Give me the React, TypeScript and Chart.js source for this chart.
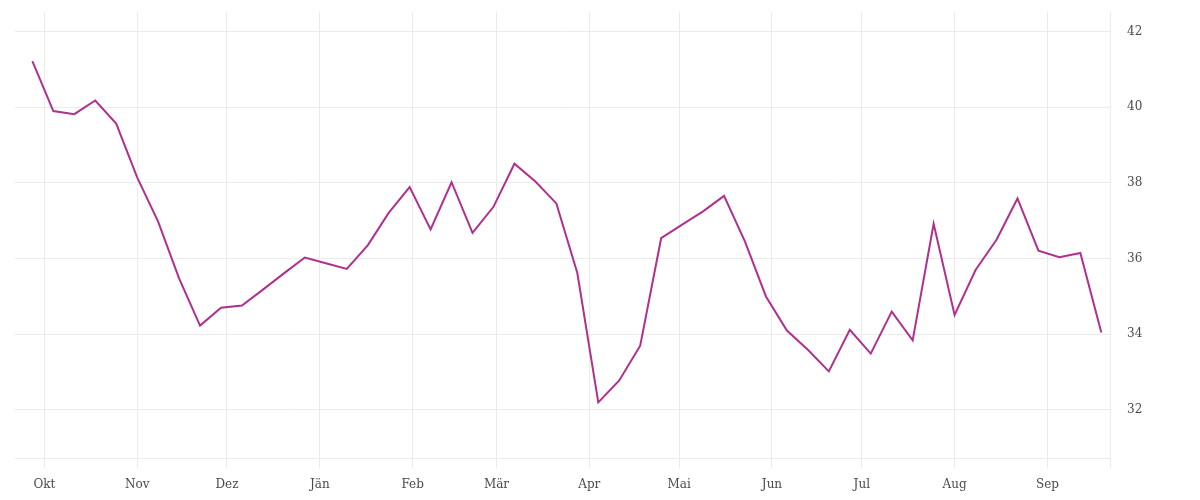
import { useEffect, useRef } from 'react';
import { Chart, registerables } from 'chart.js';

Chart.register(...registerables);

const weekDates = [
   '2018-09-27', '2018-10-04', '2018-10-11', '2018-10-18', '2018-10-25',
   '2018-11-01', '2018-11-08', '2018-11-15', '2018-11-22', '2018-11-29',
   '2018-12-06', '2018-12-13', '2018-12-20', '2018-12-27',
   '2019-01-03', '2019-01-10', '2019-01-17', '2019-01-24', '2019-01-31',
   '2019-02-07', '2019-02-14', '2019-02-21', '2019-02-28',
   '2019-03-07', '2019-03-14', '2019-03-21', '2019-03-28',
   '2019-04-04', '2019-04-11', '2019-04-18', '2019-04-25',
   '2019-05-02', '2019-05-09', '2019-05-16', '2019-05-23', '2019-05-30',
   '2019-06-06', '2019-06-13', '2019-06-20', '2019-06-27',
   '2019-07-04', '2019-07-11', '2019-07-18', '2019-07-25',
   '2019-08-01', '2019-08-08', '2019-08-15', '2019-08-22', '2019-08-29',
   '2019-09-05', '2019-09-12', '2019-09-19',
];

const weeklyValues = [
   41.22, 39.9, 39.82, 40.18, 39.57, 38.15, 36.98, 35.48, 34.23, 34.7,
   34.76, 35.18, 35.61, 36.03, 35.88, 35.73, 36.35, 37.21, 37.89, 36.77,
   38.02, 36.68, 37.37, 38.51, 38.04, 37.46, 35.62, 32.2, 32.78, 33.7,
   36.54, 36.9, 37.25, 37.66, 36.45, 35.0, 34.1, 33.59, 33.02, 34.12,
   33.49, 34.6, 33.84, 36.92, 34.51, 35.7, 36.5, 37.59, 36.21, 36.04,
   36.15, 34.05,
];

const monthStarts = [
   '2018-10-01', '2018-11-01', '2018-12-01', '2019-01-01', '2019-02-01', '2019-03-01',
   '2019-04-01', '2019-05-01', '2019-06-01', '2019-07-01', '2019-08-01', '2019-09-01',
];
const monthLabels = ['Okt', 'Nov', 'Dez', 'Jän', 'Feb', 'Mär', 'Apr', 'Mai', 'Jun', 'Jul', 'Aug', 'Sep'];

const yTicks = [32, 34, 36, 38, 40, 42];

const DAY = 86400000;
const origin = Date.parse('2018-10-01');
const toDay = (d: string) => (Date.parse(d) - origin) / DAY;

const xMin = -9.8;
const xMax = 355.9;

const gridColor = '#ebebeb';
const textColor = '#4a4a4a';
const font = { family: '"DejaVu Serif", serif', size: 12 };

export default function App() {
   const canvasRef = useRef<HTMLCanvasElement>(null);

   useEffect(() => {
      const canvas = canvasRef.current;
      if (!canvas) return;

      const monthDays = monthStarts.map(toDay);

      const chart = new Chart(canvas, {
         type: 'line',
         data: {
            datasets: [
               {
                  data: weekDates.map((d, i) => ({ x: toDay(d), y: weeklyValues[i] })),
                  borderColor: '#b0308c',
                  borderWidth: 2,
                  pointRadius: 0,
                  tension: 0,
                  fill: false,
               },
            ],
         },
         options: {
            animation: false,
            responsive: true,
            maintainAspectRatio: false,
            layout: { padding: { left: 15, top: 12, right: 0, bottom: 0 } },
            plugins: { legend: { display: false }, tooltip: { enabled: false } },
            scales: {
               x: {
                  type: 'linear',
                  min: xMin,
                  max: xMax,
                  afterBuildTicks: scale => {
                     scale.ticks = [...monthDays.map(v => ({ value: v })), { value: xMax }];
                  },
                  afterFit: scale => {
                     scale.height = 42;
                     scale.paddingLeft = 0;
                     scale.paddingRight = 0;
                  },
                  ticks: {
                     autoSkip: false,
                     maxRotation: 0,
                     padding: 10,
                     color: textColor,
                     font,
                     callback: value => {
                        const i = monthDays.indexOf(value as number);
                        return i >= 0 ? monthLabels[i] : '';
                     },
                  },
                  grid: { color: gridColor, tickLength: 10, lineWidth: 1 },
                  border: { display: true, color: gridColor },
               },
               y: {
                  type: 'linear',
                  position: 'right',
                  min: 30.73,
                  max: 42.52,
                  afterBuildTicks: scale => {
                     scale.ticks = yTicks.map(v => ({ value: v }));
                  },
                  afterFit: scale => {
                     scale.width = 90;
                     scale.paddingTop = 0;
                     scale.paddingBottom = 0;
                  },
                  ticks: { padding: 17, color: textColor, font },
                  grid: { color: gridColor, drawTicks: false },
                  border: { display: false },
               },
            },
         },
      });

      return () => {
         chart.destroy();
      };
   }, []);

   return (
      <div style={{ position: 'fixed', left: 0, top: 0, width: 1200, height: 500, background: '#fff' }}>
         <canvas ref={canvasRef} />
      </div>
   );
}
